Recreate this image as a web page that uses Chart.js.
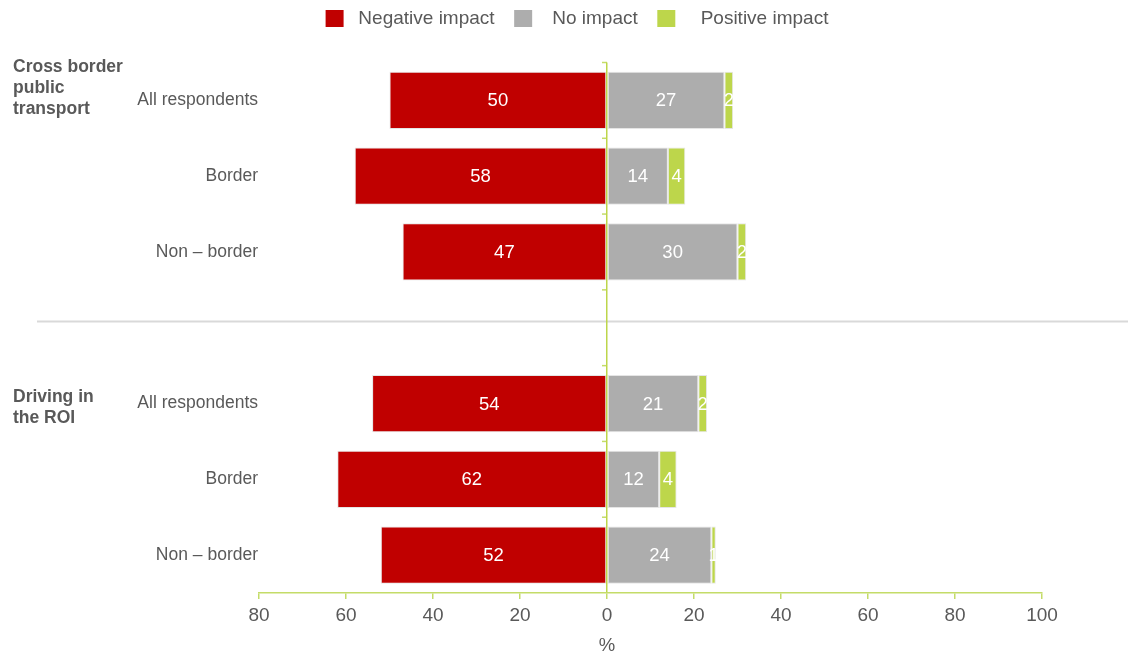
<!DOCTYPE html>
<html>
<head>
<meta charset="utf-8">
<script src="https://cdn.jsdelivr.net/npm/chart.js@4.4.1/dist/chart.umd.min.js"></script>
<style>
  html, body { margin: 0; padding: 0; background: #ffffff; }
  #wrap { width: 1128px; height: 656px; }
</style>
</head>
<body>
<div id="wrap"><canvas id="chart" width="1128" height="656"></canvas></div>
<script>
// Row labels (the empty row separates the two groups)
const categories = ['All respondents', 'Border', 'Non \u2013 border', '', 'All respondents', 'Border', 'Non \u2013 border'];
// Group headings and the row each one belongs to
const groupTitles = [['Cross border', 'public', 'transport'], ['Driving in', 'the ROI']];
const groupRows = [0, 4];
// Series names
const seriesNames = ['Negative impact', 'No impact', 'Positive impact'];
// Percentages per row
const negativeImpact = [50, 58, 47, null, 54, 62, 52];
const noImpact = [27, 14, 30, null, 21, 12, 24];
const positiveImpact = [2, 4, 2, null, 2, 4, 1];
// Value axis range and step
const axisMin = -80;
const axisMax = 100;
const axisStep = 20;
const axisTitle = '%';

const FONT = '"Liberation Sans", Arial, Helvetica, sans-serif';
const TEXT = '#595959';
const RED = '#c00000';
const GREY = '#adadad';
const GREEN = '#bdd64b';
const AXIS_GREEN = '#c4dc68';

// Negative answers are drawn to the left of zero
const negativeSide = negativeImpact.map(v => v === null ? null : -v);

// White value labels in the middle of each segment
const valueLabels = {
  id: 'valueLabels',
  afterDatasetsDraw(chart) {
    const ctx = chart.ctx;
    ctx.save();
    ctx.fillStyle = '#ffffff';
    ctx.font = '18.5px ' + FONT;
    ctx.textAlign = 'center';
    ctx.textBaseline = 'middle';
    chart.data.datasets.forEach((ds, i) => {
      const meta = chart.getDatasetMeta(i);
      meta.data.forEach((el, j) => {
        const v = ds.data[j];
        if (v === null || v === undefined) return;
        const c = el.getCenterPoint();
        ctx.fillText(String(Math.abs(v)), c.x, c.y + 1);
      });
    });
    ctx.restore();
  }
};

// Short marks on the zero line between rows, the group divider and the unit label
const rowMarks = {
  id: 'rowMarks',
  beforeDatasetsDraw(chart) {
    const { ctx, scales: { y } } = chart;
    const yy = Math.round(y.getPixelForValue(2.91)) + 0.5;
    ctx.save();
    ctx.strokeStyle = '#d9d9d9';
    ctx.lineWidth = 2;
    ctx.beginPath();
    ctx.moveTo(37, yy);
    ctx.lineTo(chart.width, yy);
    ctx.stroke();
    ctx.restore();
  },
  afterDatasetsDraw(chart) {
    const { ctx, scales: { x, y } } = chart;
    const x0 = x.getPixelForValue(0);
    ctx.save();
    ctx.strokeStyle = AXIS_GREEN;
    ctx.lineWidth = 1.5;
    for (let i = 0; i < categories.length; i++) {
      const yy = y.getPixelForValue(i - 0.5);
      ctx.beginPath();
      ctx.moveTo(x0 - 5, yy);
      ctx.lineTo(x0, yy);
      ctx.stroke();
    }
    ctx.fillStyle = TEXT;
    ctx.font = '18.5px ' + FONT;
    ctx.textAlign = 'center';
    ctx.textBaseline = 'middle';
    ctx.fillText(axisTitle, x0, x.bottom - 10);
    ctx.restore();
  }
};

// Bold group headings on the far left
const groupHeadings = {
  id: 'groupHeadings',
  afterDraw(chart) {
    const { ctx, scales: { y } } = chart;
    const shift = [-33, -6];
    const lineGap = 21;
    ctx.save();
    ctx.fillStyle = TEXT;
    ctx.font = 'bold 17.5px ' + FONT;
    ctx.textAlign = 'left';
    ctx.textBaseline = 'middle';
    groupTitles.forEach((lines, g) => {
      const base = y.getPixelForValue(groupRows[g]) + shift[g];
      lines.forEach((t, k) => ctx.fillText(t, 13, base + k * lineGap));
    });
    ctx.restore();
  }
};

const legendText = [' Negative impact  ', '  No impact  ', '   Positive impact'];

new Chart(document.getElementById('chart'), {
  type: 'bar',
  data: {
    labels: categories,
    datasets: [
      { label: seriesNames[0], data: negativeSide, backgroundColor: RED },
      { label: seriesNames[1], data: noImpact, backgroundColor: GREY },
      { label: seriesNames[2], data: positiveImpact, backgroundColor: GREEN }
    ].map(d => Object.assign(d, {
      borderColor: 'rgba(225,225,225,0.85)',
      borderWidth: 1,
      borderSkipped: false,
      categoryPercentage: 1,
      barPercentage: 0.755
    }))
  },
  options: {
    indexAxis: 'y',
    responsive: false,
    devicePixelRatio: 1,
    animation: false,
    layout: { padding: { left: 112, right: 86, top: 0, bottom: 0 } },
    scales: {
      x: {
        stacked: true,
        min: axisMin,
        max: axisMax,
        ticks: {
          stepSize: axisStep,
          color: TEXT,
          font: { family: FONT, size: 19 },
          padding: 5,
          callback: v => Math.abs(v)
        },
        grid: {
          z: 1,
          color: c => (c.tick && c.tick.value === 0) ? GREEN : 'rgba(0,0,0,0)',
          tickColor: AXIS_GREEN,
          lineWidth: 1.5,
          tickLength: 6
        },
        border: { display: true, color: AXIS_GREEN, width: 1.5, z: 1 },
        afterFit(scale) { scale.height = 63; }
      },
      y: {
        stacked: true,
        grid: { display: false, drawTicks: false },
        border: { display: false },
        ticks: {
          color: TEXT,
          font: { family: FONT, size: 17.5 },
          padding: 1
        },
        afterFit(scale) { scale.width = 147; }
      }
    },
    plugins: {
      tooltip: { enabled: false },
      title: {
        display: true,
        text: '',
        weight: 500,
        font: { size: 1 },
        padding: { top: 23.3, bottom: 0 }
      },
      legend: {
        position: 'top',
        labels: {
          boxWidth: 18,
          boxHeight: 17,
          padding: 9,
          color: TEXT,
          font: { family: FONT, size: 19 },
          generateLabels(chart) {
            const items = Chart.defaults.plugins.legend.labels.generateLabels(chart);
            items.forEach((it, i) => { it.text = legendText[i]; it.lineWidth = 0; });
            return items;
          }
        }
      }
    }
  },
  plugins: [rowMarks, valueLabels, groupHeadings]
});
</script>
</body>
</html>
